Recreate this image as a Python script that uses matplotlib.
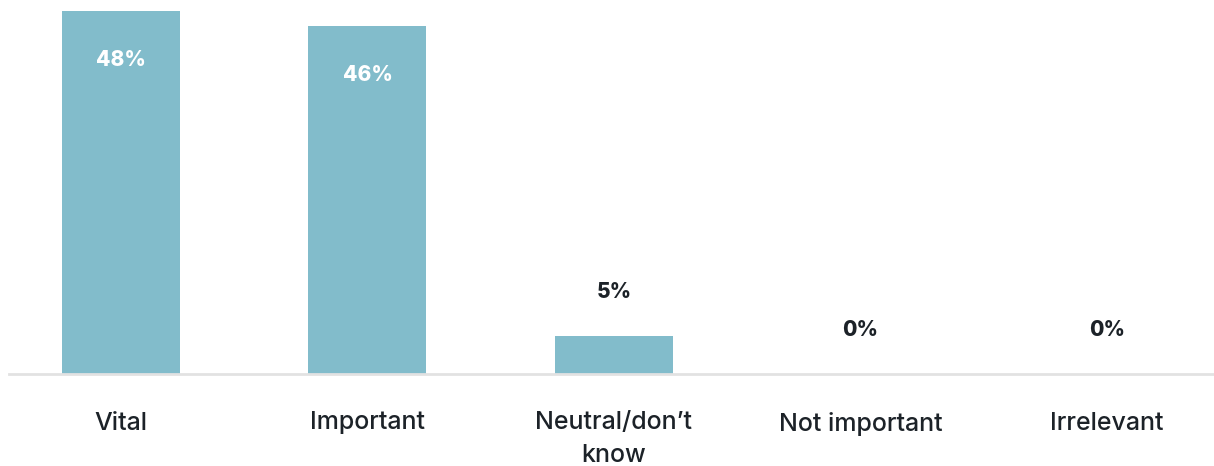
import matplotlib
matplotlib.use("Agg")
import matplotlib.pyplot as plt

# Chart data
categories = ["Vital", "Important", "Neutral/don\u2019t\nknow", "Not important", "Irrelevant"]
values = [48, 46, 5, 0, 0]
value_labels = ["48%", "46%", "5%", "0%", "0%"]

bar_color = "#82bccb"
text_color = "#1c2228"

plt.rcParams["font.family"] = ["Inter", "DejaVu Sans"]

fig = plt.figure(figsize=(12.14, 4.66), dpi=100)
ax = fig.add_axes([9 / 1214, 92 / 466, 1204 / 1214, 374 / 466])

x = list(range(len(categories)))
ax.bar(x, values, width=0.479, color=bar_color)

# Value labels: inside tall bars, above short ones
for xi, v, lab in zip(x, values, value_labels):
    if v >= 10:
        ax.text(xi, v - 6.5, lab, ha="center", va="center", color="white",
                fontsize=15, fontweight="heavy")
    else:
        ax.text(xi, v + 5.8, lab, ha="center", va="center", color=text_color,
                fontsize=15, fontweight="heavy")

ax.set_xlim(-0.454, 4.43)
ax.set_ylim(0, 49.45)

ax.set_xticks(x)
ax.set_xticklabels(categories, fontsize=18, color=text_color, linespacing=1.55,
                   fontweight="medium")
ax.tick_params(axis="x", length=0, pad=27)
ax.set_yticks([])

for side in ["top", "right", "left"]:
    ax.spines[side].set_visible(False)
ax.spines["bottom"].set_color("#e2e2e2")
ax.spines["bottom"].set_linewidth(2)

fig.savefig("out.png", dpi=100)
